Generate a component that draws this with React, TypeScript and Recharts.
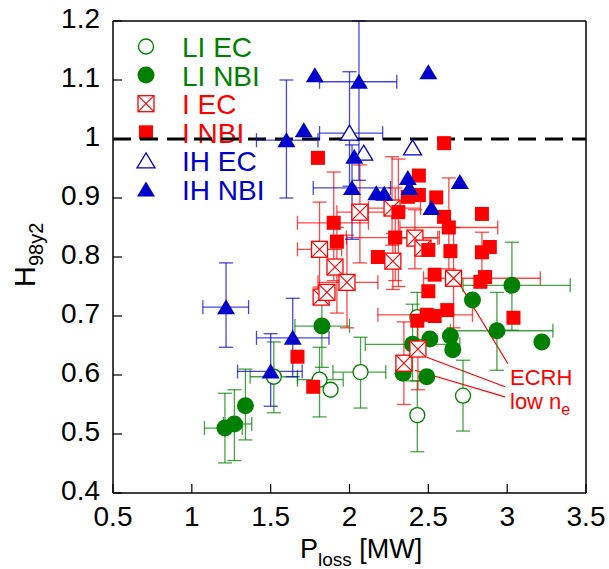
import React from 'react'
import {
  ScatterChart, Scatter, XAxis, YAxis, ErrorBar, ReferenceLine, Customized,
} from 'recharts'

type Range = [number, number] | null

const GREEN = '#008000'
const RED = '#ff0000'
const BLUE = '#0000cc'
const FONT = '"Liberation Sans", Arial, Helvetica, sans-serif'

const xTicks = [0.5, 1, 1.5, 2, 2.5, 3, 3.5]
const yTicks = [0.4, 0.5, 0.6, 0.7, 0.8, 0.9, 1, 1.1, 1.2]

// LI EC (open circles)
const liEcX = [1.52, 1.81, 1.88, 2.07, 2.43, 2.43, 2.72]
const liEcY = [0.597, 0.592, 0.575, 0.605, 0.698, 0.532, 0.565]
const liEcXErr: Range[] = [[1.37, 1.67], [1.67, 1.96], null, [1.895, 2.23], null, null, null]
const liEcYErr: Range[] = [[0.536, 0.656], [0.529, 0.647], null, [0.544, 0.664], [0.66, 0.74], [0.47, 0.59], [0.505, 0.625]]

// LI NBI (filled circles)
const liNbiX = [1.21, 1.27, 1.34, 1.825, 2.34, 2.40, 2.49, 2.51, 2.64, 2.655, 2.78, 2.935, 3.03, 3.22]
const liNbiY = [0.51, 0.517, 0.548, 0.683, 0.603, 0.652, 0.597, 0.661, 0.666, 0.643, 0.727, 0.675, 0.752, 0.656]
const liNbiXErr: Range[] = [[1.08, 1.32], [1.2, 1.38], null, [1.654, 2.0], null, [2.1, 2.7], null, null, null, null, null, [2.64, 3.29], [2.72, 3.4], null]
const liNbiYErr: Range[] = [[0.451, 0.569], [0.455, 0.575], [0.49, 0.61], [0.613, 0.745], null, [0.59, 0.72], null, null, null, null, null, [0.608, 0.74], [0.676, 0.825], null]

// I EC (crossed boxes)
const iEcX = [1.81, 1.82, 1.857, 1.908, 1.984, 2.066, 2.27, 2.275, 2.415, 2.466, 2.66, 2.345, 2.434]
const iEcY = [0.813, 0.732, 0.74, 0.783, 0.757, 0.876, 0.883, 0.793, 0.832, 0.815, 0.764, 0.62, 0.644]
const iEcXErr: Range[] = [[1.67, 1.95], null, null, null, [1.8, 2.18], [1.92, 2.3], [2.12, 2.45], null, [2.25, 2.56], null, [2.47, 3.21], null, null]
const iEcYErr: Range[] = [[0.749, 0.893], null, null, null, [0.68, 0.837], [0.79, 0.956], [0.82, 0.97], [0.745, 0.84], [0.78, 0.88], null, [0.68, 0.85], [0.55, 0.69], [0.575, 0.7]]

// I NBI (filled squares)
const iNbiX = [1.8, 2.6, 2.44, 2.44, 2.37, 2.55, 2.31, 2.6, 2.84, 1.9, 2.63, 1.92, 2.29, 2.5, 2.64, 2.84, 2.89, 2.18, 2.54, 2.86, 2.83, 2.5, 2.62, 2.54, 2.49, 2.43, 3.04, 1.67, 1.77]
const iNbiY = [0.968, 0.993, 0.938, 0.905, 0.902, 0.901, 0.876, 0.868, 0.873, 0.858, 0.85, 0.826, 0.833, 0.812, 0.81, 0.808, 0.817, 0.8, 0.77, 0.766, 0.758, 0.742, 0.71, 0.7, 0.702, 0.692, 0.697, 0.631, 0.58]
const iNbiXErr: Range[] = [null, null, null, null, null, null, null, null, null, [1.67, 2.12], [2.32, 2.94], null, [1.98, 2.57], null, null, null, null, null, null, null, null, null, null, null, [2.18, 2.78], null, null, null, null]
const iNbiYErr: Range[] = [null, null, null, null, null, null, [0.75, 0.966], null, null, [0.76, 0.944], [0.78, 0.934], [0.705, 0.85], [0.76, 0.917], null, null, [0.756, 0.842], null, null, null, null, null, null, null, null, null, null, null, null, null]

// IH EC (open triangles)
const ihEcX = [2.0, 2.09, 2.4]
const ihEcY = [1.01, 0.976, 0.985]
const ihEcXErr: Range[] = [[1.81, 2.21], null, null]
const ihEcYErr: Range[] = [[0.92, 1.114], null, null]

// IH NBI (filled triangles)
const ihNbiX = [1.217, 1.5, 1.64, 1.6, 1.71, 1.78, 2.03, 2.016, 2.06, 2.17, 2.22, 2.37, 2.38, 2.5, 2.52, 2.7]
const ihNbiY = [0.715, 0.606, 0.663, 0.998, 1.015, 1.108, 0.97, 0.917, 1.097, 0.908, 0.907, 0.934, 0.917, 1.113, 0.883, 0.927]
const ihNbiXErr: Range[] = [[1.07, 1.36], [1.29, 1.7], [1.41, 1.87], [1.41, 1.8], null, null, null, [1.77, 2.26], [1.81, 2.3], null, null, null, null, null, null, null]
const ihNbiYErr: Range[] = [[0.647, 0.79], [0.547, 0.67], [0.597, 0.73], [0.9, 1.1], null, null, null, [0.83, 0.99], [0.93, 1.2], null, null, null, null, null, null, null]

// ECRH low n_e leader lines (data coords)
const leaderFrom = [[2.7, 0.753], [2.49, 0.63], [2.415, 0.608]]
const leaderTo = [[3.005, 0.619], [2.986, 0.58], [2.986, 0.563]]

const legendLabels = ['LI EC', 'LI NBI', 'I EC', 'I NBI', 'IH EC', 'IH NBI']
const legendColors = [GREEN, GREEN, RED, RED, BLUE, BLUE]

function build(xs: number[], ys: number[], xe: Range[], ye: Range[]) {
  return xs.map((x, i) => {
    const y = ys[i]
    const a = xe[i]
    const b = ye[i]
    return {
      x,
      y,
      ex: a ? [x - a[0], a[1] - x] : undefined,
      ey: b ? [y - b[0], b[1] - y] : undefined,
    }
  })
}

const liEc = build(liEcX, liEcY, liEcXErr, liEcYErr)
const liNbi = build(liNbiX, liNbiY, liNbiXErr, liNbiYErr)
const iEc = build(iEcX, iEcY, iEcXErr, iEcYErr)
const iNbi = build(iNbiX, iNbiY, iNbiXErr, iNbiYErr)
const ihEc = build(ihEcX, ihEcY, ihEcXErr, ihEcYErr)
const ihNbi = build(ihNbiX, ihNbiY, ihNbiXErr, ihNbiYErr)

// marker glyphs
const circleOpen = (cx: number, cy: number) => (
  <circle cx={cx} cy={cy} r={7.5} fill="#fff" stroke={GREEN} strokeWidth={1.3} />
)
const circleFill = (cx: number, cy: number) => (
  <circle cx={cx} cy={cy} r={8.5} fill={GREEN} />
)
const boxCross = (cx: number, cy: number) => (
  <g>
    <rect x={cx - 8} y={cy - 8} width={16} height={16} fill="#fff" stroke={RED} strokeWidth={1.3} />
    <path d={`M${cx - 8},${cy - 8}L${cx + 8},${cy + 8}M${cx + 8},${cy - 8}L${cx - 8},${cy + 8}`} stroke={RED} strokeWidth={1.1} />
  </g>
)
const squareFill = (cx: number, cy: number) => (
  <rect x={cx - 7} y={cy - 7} width={14} height={14} fill={RED} />
)
const triPath = (cx: number, cy: number) => `M${cx},${cy - 8}L${cx + 9},${cy + 7}L${cx - 9},${cy + 7}Z`
const triOpen = (cx: number, cy: number) => (
  <path d={triPath(cx, cy)} fill="#fff" stroke={BLUE} strokeWidth={1.3} />
)
const triFill = (cx: number, cy: number) => <path d={triPath(cx, cy)} fill={BLUE} />

const glyphs = [circleOpen, circleFill, boxCross, squareFill, triOpen, triFill]

const shapeOf = (g: (cx: number, cy: number) => React.ReactElement) =>
  (props: any) => g(props.cx, props.cy)

function Legendish() {
  return (
    <g>
      {legendLabels.map((label, i) => {
        const base = 57 + i * 28.6
        return (
          <g key={label}>
            {glyphs[i](146, base - 10.5)}
            <text x={182} y={base} fontSize={28} fill={legendColors[i]} fontFamily={FONT}>{label}</text>
          </g>
        )
      })}
    </g>
  )
}

function Titles() {
  return (
    <g fontFamily={FONT} fill="#000">
      <text x={300} y={558} fontSize={27}>
        P<tspan fontSize={19} dy={8}>loss</tspan><tspan dy={-8}> [MW]</tspan>
      </text>
      <text transform="translate(35,287) rotate(-90)" fontSize={29}>
        H<tspan fontSize={20} dy={8}>98y2</tspan>
      </text>
      <text x={510} y={385} fontSize={22} fill={RED}>ECRH</text>
      <text x={510} y={409} fontSize={22} fill={RED}>
        low n<tspan fontSize={16} dy={6}>e</tspan>
      </text>
    </g>
  )
}

const errProps = (color: string) => ({
  stroke: color,
  strokeWidth: 1.3,
  strokeOpacity: 0.72,
  width: 7,
})

function series(data: any[], color: string, glyph: any, name: string) {
  return (
    <Scatter key={name} name={name} data={data} isAnimationActive={false} shape={shapeOf(glyph)}>
      <ErrorBar dataKey="ex" direction="x" {...errProps(color)} />
      <ErrorBar dataKey="ey" direction="y" {...errProps(color)} />
    </Scatter>
  )
}

export default function App() {
  const axisLine = { stroke: '#000', strokeWidth: 1.5 }
  const tickLine = { stroke: '#000', strokeWidth: 1.2 }
  return (
    <div style={{ position: 'absolute', left: 0, top: 0, fontFamily: FONT }}>
      <ScatterChart width={609} height={569} margin={{ top: 20, right: 22, bottom: 0, left: 0 }}>
        <XAxis
          type="number" dataKey="x" domain={[0.5, 3.5]} ticks={xTicks}
          height={76} tickSize={-9} tickMargin={22}
          axisLine={axisLine} tickLine={tickLine}
          tick={{ fontSize: 28, fill: '#000' }}
        />
        <XAxis
          xAxisId="top" orientation="top" type="number" domain={[0.5, 3.5]} ticks={xTicks}
          height={1} tickSize={-9} tickFormatter={() => ''}
          axisLine={axisLine} tickLine={tickLine}
        />
        <YAxis
          type="number" dataKey="y" domain={[0.4, 1.2]} ticks={yTicks}
          width={113} tickSize={-9} tickMargin={22}
          axisLine={axisLine} tickLine={tickLine}
          tick={{ fontSize: 28, fill: '#000', dy: -3 }}
        />
        <YAxis
          yAxisId="right" orientation="right" type="number" domain={[0.4, 1.2]} ticks={yTicks}
          width={1} tickSize={-9} tickFormatter={() => ''}
          axisLine={axisLine} tickLine={tickLine}
        />
        <ReferenceLine y={1} stroke="#000" strokeWidth={3} strokeDasharray="18 9" />
        {leaderFrom.map((p, i) => (
          <ReferenceLine
            key={i}
            segment={[{ x: p[0], y: p[1] }, { x: leaderTo[i][0], y: leaderTo[i][1] }]}
            stroke={RED} strokeWidth={1.2}
          />
        ))}
        {series(liEc, GREEN, circleOpen, 'LI EC')}
        {series(liNbi, GREEN, circleFill, 'LI NBI')}
        {series(iEc, RED, boxCross, 'I EC')}
        {series(iNbi, RED, squareFill, 'I NBI')}
        {series(ihEc, BLUE, triOpen, 'IH EC')}
        {series(ihNbi, BLUE, triFill, 'IH NBI')}
        <Customized component={Legendish} />
        <Customized component={Titles} />
      </ScatterChart>
    </div>
  )
}
